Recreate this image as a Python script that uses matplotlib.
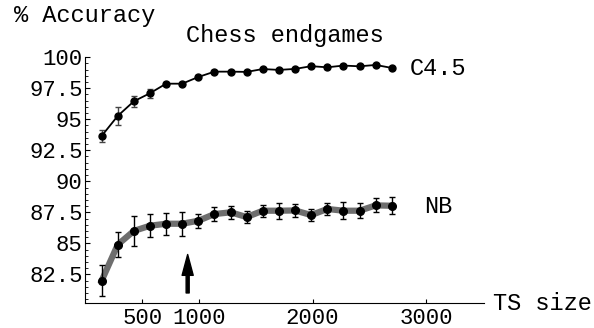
import numpy as np
import matplotlib.pyplot as plt

# training set sizes (19 steps)
ts_size = [142 * k for k in range(1, 20)]

c45_acc = [93.65, 95.27, 96.45, 97.10, 97.87, 97.87, 98.41, 98.84, 98.84, 98.82,
           99.05, 98.98, 99.06, 99.28, 99.19, 99.33, 99.27, 99.38, 99.14]
c45_err = [0.46, 0.70, 0.43, 0.37, 0.15, 0.12, 0.12, 0.10, 0.10, 0.10,
           0.10, 0.10, 0.10, 0.10, 0.10, 0.10, 0.10, 0.10, 0.10]

nb_acc = [81.98, 84.89, 86.00, 86.42, 86.58, 86.58, 86.82, 87.36, 87.50, 87.12,
          87.63, 87.63, 87.65, 87.28, 87.77, 87.63, 87.63, 88.06, 88.03]
nb_err = [1.26, 1.02, 1.22, 0.93, 0.90, 0.95, 0.58, 0.55, 0.50, 0.50,
          0.50, 0.65, 0.52, 0.46, 0.48, 0.67, 0.60, 0.56, 0.68]

arrow_x = 900

plt.rcParams['font.family'] = ['Liberation Mono', 'DejaVu Sans Mono']

fig = plt.figure(figsize=(5.94, 3.28), dpi=100)
ax = fig.add_axes([0.1439, 0.0777, 0.6709, 0.7485])

# NB: thick gray line, black dots and error bars
ax.plot(ts_size, nb_acc, color='#6e6e6e', lw=4.5, solid_joinstyle='miter', zorder=2)
ax.errorbar(ts_size, nb_acc, yerr=nb_err, fmt='o', color='black', ms=5.5,
            ecolor='black', elinewidth=1, capsize=2.5, capthick=1, zorder=3)

# C4.5: thin black line
ax.errorbar(ts_size, c45_acc, yerr=c45_err, fmt='o-', color='black', ms=5, lw=1.3,
            ecolor='#444444', elinewidth=1, capsize=2.5, capthick=1, zorder=3)

ax.annotate('', xy=(arrow_x, 84.1), xytext=(arrow_x, 81.0),
            arrowprops=dict(facecolor='black', edgecolor='black', width=2.2,
                            headwidth=8, headlength=15, shrink=0))

ax.set_xlim(0, 3510)
ax.set_ylim(80.23, 100.02)
ax.set_xticks([500, 1000, 2000, 3000])
ax.set_xticklabels(['500', '1000', '2000', '3000'])
ax.set_yticks([82.5, 85, 87.5, 90, 92.5, 95, 97.5, 100])
ax.set_yticklabels(['82.5', '85', '87.5', '90', '92.5', '95', '97.5', '100'])
ax.set_yticks(np.arange(80.5, 100.01, 0.5), minor=True)

ax.spines['top'].set_visible(False)
ax.spines['right'].set_visible(False)
ax.tick_params(axis='both', direction='in', labelsize=16, width=0.8, colors='black')
ax.tick_params(axis='x', length=3, pad=4)
ax.tick_params(axis='y', length=3.5, pad=2)
ax.tick_params(axis='y', which='minor', direction='in', length=2, width=0.6)

ax.text(2860, 99.06, 'C4.5', fontsize=17, va='center', ha='left')
ax.text(2982, 87.95, 'NB', fontsize=17, va='center', ha='left')

fig.text(0.0236, 0.933, '% Accuracy', fontsize=17, va='baseline', ha='left')
fig.text(0.479, 0.872, 'Chess endgames', fontsize=17, va='baseline', ha='center')
fig.text(0.830, 0.055, 'TS size', fontsize=17, va='baseline', ha='left')

fig.savefig('out.png', dpi=100)
